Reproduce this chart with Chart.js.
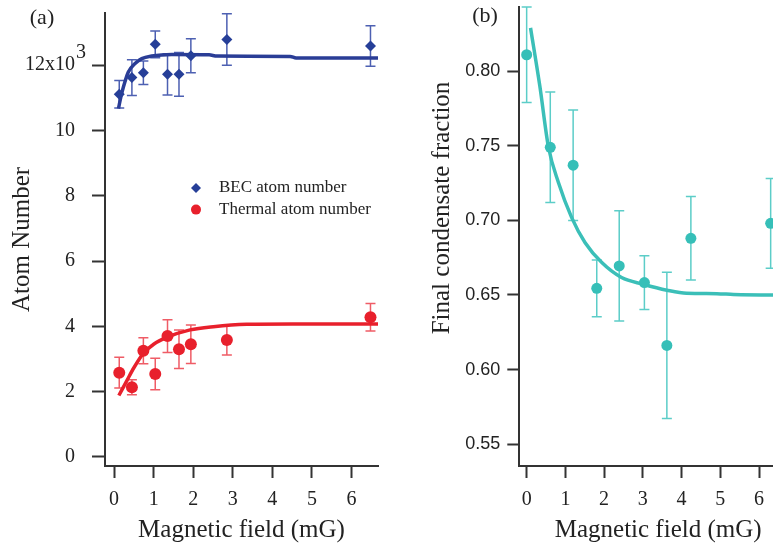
<!DOCTYPE html>
<html lang="en">
<head>
<meta charset="UTF-8">
<title>Atom number and condensate fraction vs magnetic field</title>
<script src="https://cdn.jsdelivr.net/npm/chart.js@4.4.1/dist/chart.umd.min.js"></script>
<style>
  html, body { margin: 0; padding: 0; background: #fff; }
  body { width: 773px; height: 550px; overflow: hidden; position: relative; }
  canvas { position: absolute; top: 0; }
  #chartA { left: 0; }
  #chartB { left: 400px; }
</style>
</head>
<body>
<canvas id="chartA" width="400" height="550"></canvas>
<canvas id="chartB" width="400" height="550"></canvas>
<script>
// ---- panel (a): atom numbers ----
const fieldA = [0.13, 0.45, 0.74, 1.04, 1.35, 1.64, 1.94, 2.85, 6.48];
const becAtoms = [11.11, 11.62, 11.77, 12.64, 11.72, 11.72, 12.29, 12.79, 12.59];
const becErr = [0.42, 0.55, 0.36, 0.41, 0.63, 0.67, 0.52, 0.79, 0.62];
const thermalAtoms = [2.58, 2.13, 3.25, 2.54, 3.70, 3.30, 3.45, 3.58, 4.28];
const thermalErr = [0.47, 0.23, 0.40, 0.48, 0.50, 0.59, 0.59, 0.46, 0.42];

const becFitX = [0.11, 0.17, 0.235, 0.36, 0.53, 0.70, 0.95, 1.46, 2.40, 2.60, 4.45, 4.60, 6.67];
const becFitY = [10.67, 11.02, 11.33, 11.79, 12.05, 12.20, 12.28, 12.33, 12.32, 12.28, 12.27, 12.22, 12.22];
const thermalFitX = [0.12, 0.32, 0.50, 0.74, 1.00, 1.33, 1.92, 2.51, 3.35, 4.50, 6.67];
const thermalFitY = [1.88, 2.33, 2.73, 3.17, 3.45, 3.66, 3.89, 3.99, 4.06, 4.07, 4.07];

const xTicks = [0, 1, 2, 3, 4, 5, 6];
const xTickLabels = ['0', '1', '2', '3', '4', '5', '6'];
const yTicksA = [0, 2, 4, 6, 8, 10, 12];
const yTickLabelsA = ['0', '2', '4', '6', '8', '10', '12x10'];

// ---- panel (b): condensate fraction ----
const fieldB = [0, 0.61, 1.2, 1.81, 2.39, 3.04, 3.62, 4.24, 6.3];
const condFraction = [0.811, 0.749, 0.737, 0.6545, 0.6695, 0.6583, 0.6162, 0.688, 0.698];
const condErr = [0.032, 0.037, 0.037, 0.019, 0.037, 0.018, 0.049, 0.028, 0.030];
const condFitX = [0.10, 0.34, 0.56, 0.82, 1.16, 1.51, 1.94, 2.45, 3.01, 3.62, 4.13, 4.91, 5.34, 6.36, 7.0];
const condFitY = [0.829, 0.790, 0.7495, 0.7254, 0.702, 0.685, 0.6717, 0.6617, 0.6572, 0.6532, 0.6511, 0.6509, 0.6503, 0.650, 0.650];

const yTicksB = [0.55, 0.60, 0.65, 0.70, 0.75, 0.80];
const yTickLabelsB = ['0.55', '0.60', '0.65', '0.70', '0.75', '0.80'];

const SERIF = '"Liberation Serif", "Times New Roman", serif';
const SANS = '"Liberation Sans", Arial, sans-serif';
const AXIS = '#333';
const TEXT = '#222';

Chart.defaults.font.family = SERIF;
Chart.defaults.color = TEXT;

function pts(xs, ys) {
    return xs.map((x, i) => ({ x: x, y: ys[i] }));
}

// vertical error bars with caps, drawn under the markers
const errorBars = {
    id: 'errorBars',
    beforeDatasetsDraw(chart) {
        const ctx = chart.ctx;
        const xs = chart.scales.x, ys = chart.scales.y;
        chart.data.datasets.forEach(ds => {
            if (!ds.errors) return;
            ctx.save();
            ctx.strokeStyle = ds.errorColor;
            ctx.lineWidth = 1.5;
            ds.data.forEach((p, i) => {
                const x = xs.getPixelForValue(p.x);
                const top = ys.getPixelForValue(p.y + ds.errors[i]);
                const bot = ys.getPixelForValue(p.y - ds.errors[i]);
                ctx.beginPath();
                ctx.moveTo(x, top); ctx.lineTo(x, bot);
                ctx.moveTo(x - 5, top); ctx.lineTo(x + 5, top);
                ctx.moveTo(x - 5, bot); ctx.lineTo(x + 5, bot);
                ctx.stroke();
            });
            ctx.restore();
        });
    }
};

// small legend inside the plot, built from the datasets
const markerLegend = {
    id: 'markerLegend',
    afterDraw(chart, args, opts) {
        if (!opts.x) return;
        const ctx = chart.ctx;
        let y = opts.y;
        chart.data.datasets.forEach(ds => {
            if (!ds.legendText) return;
            ctx.save();
            ctx.fillStyle = ds.pointBackgroundColor;
            Chart.helpers.drawPoint(ctx, { pointStyle: ds.pointStyle, radius: opts.radius, rotation: 0, borderWidth: 0 }, opts.x, y);
            ctx.font = opts.font;
            ctx.fillStyle = TEXT;
            ctx.textAlign = 'left';
            ctx.textBaseline = 'middle';
            ctx.fillText(ds.legendText, opts.textX, y);
            ctx.restore();
            y += opts.step;
        });
    }
};

// panel letters and other free text
const extraText = {
    id: 'extraText',
    afterDraw(chart, args, opts) {
        const ctx = chart.ctx;
        (opts.items || []).forEach(t => {
            ctx.save();
            ctx.translate(t.x, t.y);
            if (t.rotate) ctx.rotate(t.rotate);
            ctx.font = t.font;
            ctx.fillStyle = TEXT;
            ctx.textAlign = t.align || 'center';
            ctx.textBaseline = 'middle';
            ctx.fillText(t.text, 0, 0);
            ctx.restore();
        });
    }
};

function axisStyle(tickLen) {
    return {
        grid: { drawOnChartArea: false, drawTicks: true, tickLength: tickLen, tickWidth: 2, tickColor: AXIS },
        border: { display: true, color: AXIS, width: 2 }
    };
}

// fixed axis boxes so the plot areas sit where the figure has them
function fixX(s) {
    s.height = 84;
    s.paddingLeft = 0; s.paddingRight = 0;
}
function fixY(w) {
    return s => {
        s.width = w;
        s.paddingTop = 0; s.paddingBottom = 0;
    };
}

// (a)
new Chart(document.getElementById('chartA'), {
    type: 'scatter',
    data: {
        datasets: [
            {
                legendText: 'BEC atom number',
                data: pts(fieldA, becAtoms),
                errors: becErr,
                errorColor: '#4d60b2',
                pointStyle: 'rectRot',
                pointRadius: 5.5,
                pointBackgroundColor: '#263f98',
                pointBorderWidth: 0,
                showLine: false
            },
            {
                legendText: 'Thermal atom number',
                data: pts(fieldA, thermalAtoms),
                errors: thermalErr,
                errorColor: '#ef5c66',
                pointStyle: 'circle',
                pointRadius: 6,
                pointBackgroundColor: '#e8202c',
                pointBorderWidth: 0,
                showLine: false
            },
            {
                data: pts(becFitX, becFitY),
                showLine: true,
                borderColor: '#2a3d96',
                borderWidth: 3.5,
                pointRadius: 0,
                cubicInterpolationMode: 'monotone'
            },
            {
                data: pts(thermalFitX, thermalFitY),
                showLine: true,
                borderColor: '#e8202c',
                borderWidth: 3.5,
                pointRadius: 0,
                cubicInterpolationMode: 'monotone'
            }
        ]
    },
    options: {
        responsive: false,
        animation: false,
        events: [],
        layout: { padding: { left: 0, top: 13, right: 22, bottom: 0 }, autoPadding: false },
        plugins: {
            legend: { display: false },
            tooltip: { enabled: false },
            markerLegend: { x: 196, y: 188, step: 21.6, textX: 219, radius: 5, font: '17px ' + SERIF },
            extraText: {
                items: [
                    { text: '(a)', x: 42, y: 18, font: '22px ' + SERIF },
                    { text: '3', x: 76, y: 53, font: '20px ' + SERIF, align: 'left' }
                ]
            }
        },
        scales: {
            x: {
                type: 'linear',
                min: -0.23,
                max: 6.67,
                afterBuildTicks: s => { s.ticks = xTicks.map(v => ({ value: v })); },
                afterFit: fixX,
                ticks: { callback: (v, i) => xTickLabels[i], font: { size: 20 }, padding: 10, autoSkip: false, maxRotation: 0 },
                ...axisStyle(12),
                title: { display: true, text: 'Magnetic field (mG)', font: { size: 25 }, padding: { bottom: 5 } }
            },
            y: {
                min: -0.28,
                max: 13.6,
                afterBuildTicks: s => { s.ticks = yTicksA.map(v => ({ value: v })); },
                afterFit: fixY(105),
                ticks: { callback: (v, i) => yTickLabelsA[i], font: { size: 20 }, padding: 17 },
                ...axisStyle(13),
                title: { display: true, text: 'Atom Number', font: { size: 25 }, padding: { top: 7 } }
            }
        }
    },
    plugins: [errorBars, markerLegend, extraText]
});

// (b)
new Chart(document.getElementById('chartB'), {
    type: 'scatter',
    data: {
        datasets: [
            {
                data: pts(fieldB, condFraction),
                errors: condErr,
                errorColor: '#5ccdc8',
                pointStyle: 'circle',
                pointRadius: 5.5,
                pointBackgroundColor: '#36bfb8',
                pointBorderWidth: 0,
                showLine: false
            },
            {
                data: pts(condFitX, condFitY),
                showLine: true,
                borderColor: '#3bbfb8',
                borderWidth: 3.5,
                pointRadius: 0,
                cubicInterpolationMode: 'monotone'
            }
        ]
    },
    options: {
        responsive: false,
        animation: false,
        events: [],
        layout: { padding: { left: 0, top: 7, right: 3, bottom: 0 }, autoPadding: false },
        plugins: {
            legend: { display: false },
            tooltip: { enabled: false },
            extraText: {
                items: [
                    { text: '(b)', x: 85, y: 16, font: '22px ' + SERIF },
                    { text: 'Final condensate fraction', x: 42, y: 208, rotate: -Math.PI / 2, font: '25px ' + SERIF }
                ]
            }
        },
        scales: {
            x: {
                type: 'linear',
                min: -0.19,
                max: 6.98,
                afterBuildTicks: s => { s.ticks = xTicks.map(v => ({ value: v })); },
                afterFit: fixX,
                ticks: { callback: (v, i) => xTickLabels[i], font: { size: 20 }, padding: 10, autoSkip: false, maxRotation: 0 },
                ...axisStyle(12),
                title: { display: true, text: 'Magnetic field (mG)', font: { size: 25 }, padding: { bottom: 5 } }
            },
            y: {
                min: 0.5354,
                max: 0.843,
                afterBuildTicks: s => { s.ticks = yTicksB.map(v => ({ value: v })); },
                afterFit: fixY(119.3),
                ticks: { callback: (v, i) => yTickLabelsB[i], font: { size: 18, family: SANS }, padding: 7 },
                ...axisStyle(12)
            }
        }
    },
    plugins: [errorBars, extraText]
});
</script>
</body>
</html>
